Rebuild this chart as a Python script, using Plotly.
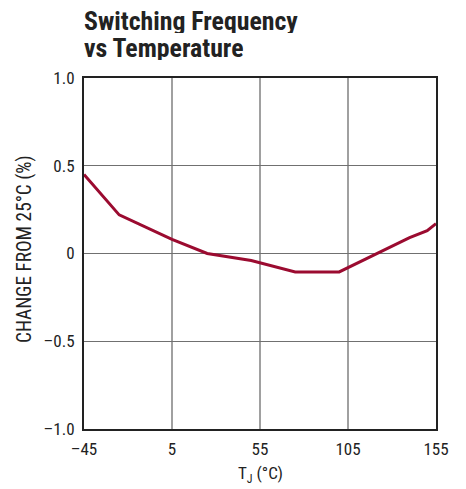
import plotly.graph_objects as go

temp_c = [-45, -25, 5, 25, 50, 75, 100, 140, 150, 155]
change_pct = [0.45, 0.22, 0.08, 0.0, -0.04, -0.105, -0.105, 0.09, 0.13, 0.17]
x_ticks = [-45, 5, 55, 105, 155]
x_tick_text = ["\u201345", "5", "55", "105", "155"]
y_ticks = [-1.0, -0.5, 0, 0.5, 1.0]
y_tick_text = ["\u20131.0", "\u20130.5", "0", "0.5", "1.0"]

FONT = "Roboto Condensed, Liberation Sans Narrow, sans-serif"
W, H = 466, 489
L, R, T, B = 84, 30, 78, 60
PH = H - T - B


def py(p):
    return (H - B - p) / PH


fig = go.Figure()
fig.add_trace(go.Scatter(x=temp_c, y=change_pct, mode="lines",
                         line=dict(color="#9b0b30", width=3), showlegend=False))

fig.update_layout(
    width=W, height=H,
    margin=dict(l=L, r=R, t=T, b=B, autoexpand=False),
    paper_bgcolor="white", plot_bgcolor="white",
    font=dict(family=FONT, color="#222", size=17),
)
fig.update_xaxes(range=[-45, 155], tickvals=x_ticks, ticktext=x_tick_text,
                 showgrid=True, gridcolor="#a0a0a0", gridwidth=1.5,
                 showline=True, linecolor="#222", linewidth=2, mirror=True,
                 ticks="outside", ticklen=4, tickcolor="rgba(0,0,0,0)",
                 zeroline=False, automargin=False)
fig.update_yaxes(range=[-1.0, 1.0], tickvals=y_ticks, ticktext=y_tick_text,
                 showgrid=True, gridcolor="#707070", gridwidth=1.3,
                 showline=True, linecolor="#222", linewidth=2, mirror=True,
                 ticks="outside", ticklen=4, tickcolor="rgba(0,0,0,0)",
                 zeroline=False, automargin=False)

# title lines
fig.add_annotation(text="<b>Switching Frequency</b>", xref="paper", yref="paper",
                   x=-2 / (W - L - R), y=py(21), xanchor="left", yanchor="middle",
                   height=25, showarrow=False,
                   font=dict(family=FONT, size=25.8, color="#222"))
fig.add_annotation(text="<b>vs Temperature</b>", xref="paper", yref="paper",
                   x=-2 / (W - L - R), y=py(47), xanchor="left", yanchor="middle",
                   height=25, showarrow=False,
                   font=dict(family=FONT, size=25.8, color="#222"))
# axis titles
fig.add_annotation(text="T<sub>J</sub> (°C)", xref="paper", yref="paper",
                   x=0.5, y=py(474), xanchor="center", yanchor="middle",
                   showarrow=False, font=dict(family=FONT, size=17, color="#222"))
fig.add_annotation(text="CHANGE FROM 25°C (%)", xref="paper", yref="paper",
                   x=(24 - L) / (W - L - R), y=py(249), xanchor="center", yanchor="middle",
                   textangle=-90, showarrow=False,
                   font=dict(family=FONT, size=19.3, color="#222"))

fig.write_html("out.html", config={"displayModeBar": False},
               post_script="document.body.style.margin='0';")
